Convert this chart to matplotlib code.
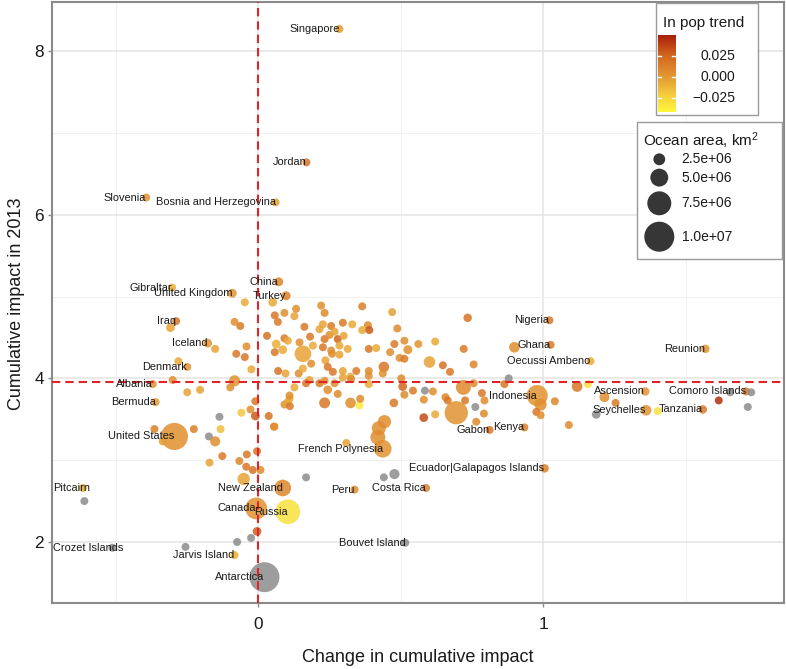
import numpy as np
import matplotlib
matplotlib.use("Agg")
import matplotlib.pyplot as plt
import matplotlib.transforms as mtransforms
from matplotlib.colors import LinearSegmentedColormap, Normalize
from matplotlib.patches import Rectangle

plt.rcParams['font.family'] = ['Liberation Sans', 'DejaVu Sans']
plt.rcParams['mathtext.fontset'] = 'custom'
plt.rcParams['mathtext.rm'] = 'Liberation Sans'
plt.rcParams['mathtext.it'] = 'Liberation Sans'

nan = float('nan')

# ---------------- data ----------------
names = [
    "Singapore", "Jordan", "Slovenia", "Bosnia and Herzegovina", "Gibraltar",
    "United Kingdom", "China", "Turkey", "Iraq", "Iceland", "Denmark", "Albania",
    "Bermuda", "United States", "Pitcairn", "Crozet Islands", "Jarvis Island",
    "Antarctica", "Canada", "Russia", "New Zealand", "Peru", "Costa Rica",
    "Bouvet Island", "French Polynesia", "Ecuador|Galapagos Islands", "Gabon",
    "Kenya", "Indonesia", "Nigeria", "Ghana", "Oecussi Ambeno", "Reunion",
    "Ascension", "Seychelles", "Tanzania", "Comoro Islands",
] + [""] * 160

change = [
    0.284, 0.168, -0.394, 0.060, -0.303, -0.092, 0.071, 0.097, -0.289, -0.178,
    -0.250, -0.371, -0.361, -0.295, -0.616, -0.513, -0.084, 0.021, -0.008, 0.103,
    0.085, 0.337, 0.588, 0.515, 0.436, 1.004, 0.811, 0.933, 0.978, 1.021,
    1.025, 1.165, 1.568, 1.357, 1.360, 1.559, 1.711,
    # unlabelled
    -0.309, -0.152, -0.281, -0.301, -0.365, -0.227, -0.174, -0.152, -0.137, -0.133,
    -0.250, -0.205, -0.099, -0.084, -0.025, 0.069, 0.095, -0.048, -0.078, -0.042,
    -0.084, -0.064, -0.048, 0.050, 0.057, 0.091, 0.068, 0.126, 0.030, 0.062,
    0.091, 0.103, 0.085, 0.057, -0.011, -0.028, -0.011, 0.036, -0.060, 0.054,
    0.091, 0.103, 0.110, 0.132,
    0.220, 0.232, 0.364, 0.469, 0.161, 0.226, 0.255, 0.296, 0.329, 0.384,
    0.364, 0.389, 0.487, 0.181, 0.214, 0.232, 0.249, 0.267, 0.278, 0.299,
    0.144, 0.191, 0.226, 0.255, 0.284, 0.313, 0.156, 0.387, 0.413, 0.462,
    0.477, 0.512, 0.524, 0.561, 0.495, 0.512, 0.440, 0.235, 0.185, 0.243,
    0.261, 0.296, 0.343, 0.387, 0.322, 0.141, 0.156, 0.501, 0.258, 0.284,
    0.734, 0.720, 0.600, 0.620, 0.647, 0.672, 0.755, 0.506, 0.512, 0.542,
    0.584, 0.612, 0.580, 0.475, 0.580, 0.620, 0.656, 0.664, 0.719, 0.694,
    0.725, 0.761, 0.755, 0.784, 0.793, 0.791, 0.764, 0.878, 0.863, 0.990,
    0.975, 0.990, 1.040, 0.898, 1.118, 1.156, 1.214, 1.253, 1.185, 1.401,
    1.655, 1.729, 1.615, 1.717, 1.089, 0.126, 0.109, 0.179, 0.167, 0.214,
    0.232, 0.243, 0.267, 0.296, 0.325, 0.387, 0.387, 0.436, 0.109, 0.232,
    0.323, 0.354, 0.357, 0.278, 0.442, 0.422, 0.419, 0.308, 0.056, 0.167,
    0.440, 0.477, -0.611, -0.256, -0.005, -0.026, -0.075, -0.052, -0.067, -0.043,
    -0.020, 0.007, -0.172, -0.127, -0.041, -0.005, -0.336,
]

impact = [
    8.27, 6.64, 6.21, 6.15, 5.11, 5.04, 5.18, 5.01, 4.70, 4.43,
    4.14, 3.93, 3.71, 3.29, 2.66, 1.93, 1.84, 1.57, 2.41, 2.37,
    2.66, 2.64, 2.66, 1.99, 3.14, 2.90, 3.37, 3.40, 3.79, 4.71,
    4.41, 4.21, 4.36, 3.84, 3.61, 3.62, 3.84,
    # unlabelled
    4.62, 4.36, 4.21, 3.98, 3.38, 3.38, 3.29, 3.23, 3.53, 3.38,
    3.83, 3.86, 3.89, 3.97, 4.11, 4.09, 4.06, 4.26, 4.30, 4.39,
    4.69, 4.64, 4.93, 4.93, 4.77, 4.80, 4.69, 4.76, 4.52, 4.42,
    4.49, 4.46, 4.35, 4.32, 3.72, 3.62, 3.54, 3.54, 3.58, 3.41,
    3.68, 3.71, 3.66, 4.85,
    4.89, 4.80, 4.88, 4.81, 4.63, 4.66, 4.64, 4.68, 4.66, 4.65,
    4.59, 4.59, 4.61, 4.51, 4.60, 4.48, 4.53, 4.57, 4.48, 4.52,
    4.44, 4.40, 4.38, 4.34, 4.40, 4.36, 4.30, 4.36, 4.37, 4.32,
    4.42, 4.46, 4.35, 4.42, 4.25, 4.24, 4.14, 4.22, 4.18, 4.14,
    4.08, 4.09, 4.09, 4.09, 4.02, 4.06, 4.12, 4.00, 4.30, 4.29,
    4.74, 4.36, 4.20, 4.45, 4.16, 4.08, 4.17, 3.90, 3.80, 3.85,
    3.85, 3.84, 3.74, 3.70, 3.52, 3.56, 3.77, 3.73, 3.89, 3.58,
    3.73, 3.65, 3.94, 3.82, 3.73, 3.57, 3.47, 4.00, 3.93, 3.68,
    3.59, 3.55, 3.72, 4.38, 3.90, 3.93, 3.77, 3.70, 3.56, 3.60,
    3.83, 3.83, 3.73, 3.65, 3.43, 3.89, 3.75, 3.98, 3.94, 3.94,
    3.97, 3.86, 3.94, 4.01, 3.99, 3.93, 4.03, 4.06, 3.79, 3.70,
    3.70, 3.67, 3.75, 3.81, 3.47, 3.39, 3.28, 3.21, 3.41, 2.79,
    2.79, 2.83, 2.50, 1.94, 2.13, 2.05, 2.00, 2.77, 2.99, 2.92,
    2.88, 2.88, 2.97, 3.05, 3.07, 3.11, 3.23,
]

# ocean area, million km2
ocean_area_mkm2 = [
    0.9, 0.9, 0.9, 0.9, 0.9, 1.3, 1.3, 1.3, 0.9, 1.2,
    0.9, 0.9, 0.9, 8.8, 0.9, 0.9, 0.9, 10.0, 6.6, 7.8,
    4.5, 0.9, 0.9, 0.9, 4.9, 1.1, 0.9, 0.9, 6.3, 0.9,
    0.9, 0.9, 1.1, 1.1, 2.0, 1.1, 0.9,
    # unlabelled
    1.2, 0.9, 0.9, 0.9, 0.9, 0.9, 0.9, 1.8, 0.9, 0.9,
    0.9, 0.9, 0.9, 2.2, 0.9, 0.9, 0.9, 0.9, 0.9, 0.9,
    0.9, 0.9, 0.9, 1.2, 0.9, 0.9, 0.9, 0.9, 0.9, 1.2,
    0.9, 0.9, 1.2, 0.9, 0.9, 0.9, 1.2, 0.9, 0.9, 0.9,
    0.9, 0.9, 0.9, 0.9,
    0.9, 0.9, 0.9, 0.9, 0.9, 0.9, 0.9, 0.9, 0.9, 0.9,
    0.9, 0.9, 0.9, 0.9, 0.9, 0.9, 0.9, 0.9, 0.9, 0.9,
    0.9, 0.9, 0.9, 0.9, 0.9, 0.9, 4.5, 0.9, 0.9, 0.9,
    0.9, 0.9, 1.3, 0.9, 0.9, 0.9, 2.0, 0.9, 0.9, 0.9,
    0.9, 0.9, 0.9, 0.9, 0.9, 0.9, 0.9, 0.9, 0.9, 0.9,
    1.1, 0.9, 2.4, 0.9, 0.9, 0.9, 0.9, 1.2, 0.9, 0.9,
    0.9, 0.9, 0.9, 1.2, 1.2, 0.9, 0.9, 0.9, 3.8, 7.2,
    0.9, 0.9, 0.9, 0.9, 0.9, 0.9, 0.9, 0.9, 0.9, 2.6,
    0.9, 0.9, 0.9, 2.0, 2.0, 0.9, 1.7, 0.9, 1.2, 0.9,
    0.9, 0.9, 0.9, 0.9, 0.9, 0.9, 0.9, 0.9, 0.9, 0.9,
    0.9, 1.2, 0.9, 0.9, 0.9, 0.9, 0.9, 0.9, 0.9, 2.1,
    2.0, 0.9, 0.9, 0.9, 3.1, 3.4, 3.8, 0.9, 0.9, 0.9,
    0.9, 1.8, 0.9, 0.9, 1.2, 0.9, 0.9, 2.7, 0.9, 0.9,
    0.9, 0.9, 0.9, 0.9, 0.9, 0.9, 0.9,
]

# ln population trend (nan = not available)
pop_trend = [
    0.000, 0.020, 0.003, -0.002, -0.008, 0.004, 0.010, 0.012, 0.018, 0.003,
    0.004, 0.004, 0.000, 0.005, -0.008, nan, -0.010, nan, 0.004, -0.030,
    0.010, 0.006, 0.012, nan, 0.004, 0.012, 0.018, 0.014, 0.004, 0.018,
    0.016, -0.006, 0.004, 0.004, 0.004, 0.016, 0.018,
    # unlabelled
    -0.004, -0.004, -0.006, 0.006, 0.014, 0.014, nan, 0.006, nan, -0.014,
    -0.004, -0.004, 0.006, 0.004, -0.006, 0.020, -0.004, 0.018, 0.018, 0.006,
    0.006, 0.016, -0.006, -0.006, 0.018, 0.006, 0.016, -0.004, 0.020, -0.008,
    0.016, -0.006, -0.006, 0.018, 0.018, 0.006, 0.030, 0.020, -0.018, 0.006,
    0.006, -0.004, 0.016, 0.006,
    0.006, 0.008, 0.014, -0.002, 0.016, -0.004, 0.016, 0.016, -0.006, 0.008,
    -0.006, 0.030, 0.008, 0.016, -0.004, 0.018, 0.006, -0.004, 0.026, -0.004,
    0.006, -0.006, 0.018, 0.006, -0.006, -0.006, -0.004, 0.018, -0.006, 0.006,
    0.016, 0.006, 0.006, 0.004, 0.006, 0.016, 0.018, -0.004, 0.006, 0.018,
    0.018, -0.004, 0.016, 0.008, -0.006, 0.006, -0.006, 0.008, 0.006, -0.004,
    0.020, 0.016, -0.004, -0.006, 0.020, 0.018, 0.010, 0.026, 0.008, 0.016,
    nan, 0.006, 0.006, 0.016, 0.035, -0.006, 0.010, 0.018, 0.008, 0.004,
    0.018, nan, 0.008, 0.018, 0.008, 0.008, 0.008, nan, 0.018, 0.006,
    0.018, 0.006, 0.010, 0.006, 0.018, -0.030, 0.006, 0.016, nan, -0.030,
    nan, nan, 0.045, nan, 0.008, -0.006, -0.006, -0.004, 0.018, 0.016,
    0.006, 0.006, 0.006, -0.004, 0.008, -0.006, 0.006, 0.006, 0.006, 0.018,
    0.006, -0.035, 0.008, 0.008, 0.006, 0.006, 0.006, -0.004, 0.006, nan,
    nan, nan, nan, nan, 0.028, nan, nan, -0.004, 0.010, 0.018,
    0.020, 0.008, -0.004, 0.016, 0.018, 0.020, -0.002,
]

change_cutoff = 0.0
impact_cutoff = 3.95

trend_limits = (-0.041, 0.050)
trend_breaks = [0.025, 0.0, -0.025]
trend_labels = ["0.025", "0.000", "\u22120.025"]
size_breaks_mkm2 = [2.5, 5.0, 7.5, 10.0]
size_labels = ["2.5e+06", "5.0e+06", "7.5e+06", "1.0e+07"]

n = min(len(change), len(impact), len(ocean_area_mkm2), len(pop_trend))
change = np.array(change[:n]); impact = np.array(impact[:n])
area = np.array(ocean_area_mkm2[:n]); trend = np.array(pop_trend[:n])
names = names[:n]

# ---------------- styling ----------------
W, H = 786, 669
DPI = 100
cmap = LinearSegmentedColormap.from_list(
    "pop", [(0.0, "#FFF83A"), (0.23, "#F4CB40"), (0.45, "#E49A33"),
            (0.725, "#D3691F"), (1.0, "#A8200A")])
norm = Normalize(*trend_limits)


def diam_px(a):
    return 5.8 + 2.42 * np.asarray(a)


def s_of(a):
    return (diam_px(a) * 72.0 / DPI) ** 2


colors = [cmap(norm(t)) if np.isfinite(t) else (0.55, 0.55, 0.55, 1.0) for t in trend]

fig = plt.figure(figsize=(W / DPI, H / DPI), dpi=DPI)
L, R, T, B = 51.7, 784.0, 2.0, 602.7
ax = fig.add_axes([L / W, 1 - B / H, (R - L) / W, (B - T) / H])
ax.set_xlim(-0.7256, 1.844)
ax.set_ylim(1.258, 8.60)

ax.set_xticks([0, 1])
ax.set_xticklabels(["0", "1"])
ax.set_xticks([-0.5, 0.5, 1.5], minor=True)
ax.set_yticks([2, 4, 6, 8])
ax.set_yticklabels(["2", "4", "6", "8"])
ax.set_yticks([3, 5, 7], minor=True)
ax.grid(which="major", color="#E4E4E4", lw=1.1)
ax.grid(which="minor", color="#F1F1F1", lw=0.7)
ax.set_axisbelow(True)
for sp in ax.spines.values():
    sp.set_color("#8A8A8A")
    sp.set_linewidth(1.5)
ax.tick_params(which="major", length=3, width=1, color="#8A8A8A",
               labelsize=12.4, labelcolor="#1A1A1A")
ax.tick_params(axis="x", pad=7)
ax.tick_params(axis="y", pad=2.5)
ax.tick_params(which="minor", length=0)

ax.scatter(change, impact, s=s_of(area), c=colors, alpha=0.85,
           linewidths=0, zorder=3)

dash = (0, (4.0, 2.4))
ax.axhline(impact_cutoff, color="#E0242A", ls=dash, lw=1.5, zorder=4)
ax.axvline(change_cutoff, color="#E0242A", ls=dash, lw=1.5, zorder=4)

label_artists = []
for x, y, nm in zip(change, impact, names):
    if nm:
        t = ax.text(x, y, nm, ha="right", va="center", fontsize=7.9,
                    color="#1A1A1A", zorder=5)
        label_artists.append(t)

# keep labels inside the panel (shift right if they cross the left edge)
fig.canvas.draw()
renderer = fig.canvas.get_renderer()
ax_left_px = ax.get_window_extent(renderer).x0
for t in label_artists:
    bb = t.get_window_extent(renderer)
    if bb.x0 < ax_left_px + 1.5:
        dx = (ax_left_px + 1.5 - bb.x0) * 72.0 / DPI
        t.set_transform(mtransforms.offset_copy(ax.transData, fig=fig,
                                                x=dx, y=0, units="points"))

fig.text((L + R) / 2 / W, 1 - 658 / H, "Change in cumulative impact",
         ha="center", va="center", fontsize=13, color="#1A1A1A")
fig.text(17 / W, 1 - 304 / H, "Cumulative impact in 2013", rotation=90,
         ha="center", va="center", fontsize=13, color="#1A1A1A")

# ---------------- legends (overlay in pixel coordinates) ----------------
lax = fig.add_axes([0, 0, 1, 1], zorder=10)
lax.set_xlim(0, W)
lax.set_ylim(H, 0)
lax.axis("off")

# colour legend
lax.add_patch(Rectangle((655.7, 3.3), 102.6, 111.7, facecolor="white",
                        edgecolor="#9A9A9A", lw=1.0, zorder=1))
lax.text(662.7, 23.5, "In pop trend", ha="left", va="center", fontsize=11,
         color="#1A1A1A", zorder=3)
bx0, bx1, by0, by1 = 657.8, 675.0, 35.0, 111.7
grad = np.linspace(trend_limits[1], trend_limits[0], 256).reshape(-1, 1)
lax.imshow(grad, cmap=cmap, norm=norm, aspect="auto",
           extent=(bx0, bx1, by1, by0), interpolation="bilinear", zorder=2)
for v, lab in zip(trend_breaks, trend_labels):
    yy = by0 + (trend_limits[1] - v) / (trend_limits[1] - trend_limits[0]) * (by1 - by0)
    lax.plot([bx0, bx0 + 3.5], [yy, yy], color="white", lw=1, zorder=3)
    lax.plot([bx1 - 3.5, bx1], [yy, yy], color="white", lw=1, zorder=3)
    lax.text(735, yy, lab, ha="right", va="center", fontsize=10,
             color="#1A1A1A", zorder=3)
lax.set_xlim(0, W)
lax.set_ylim(H, 0)

# size legend
lax.add_patch(Rectangle((637.3, 121.7), 144.5, 137.6, facecolor="white",
                        edgecolor="#9A9A9A", lw=1.0, zorder=1))
lax.text(642.7, 141, "Ocean area, km$^{2}$", ha="left", va="center",
         fontsize=11, color="#1A1A1A", zorder=3)
key_y = [159.3, 177.6, 203.3, 236.7]
lax.scatter([659.3] * 4, key_y, s=s_of(size_breaks_mkm2), color="#2B2B2B",
            alpha=0.95, linewidths=0, zorder=3)
for yy, lab in zip(key_y, size_labels):
    lax.text(681.7, yy, lab, ha="left", va="center", fontsize=10,
             color="#1A1A1A", zorder=3)
lax.set_xlim(0, W)
lax.set_ylim(H, 0)

fig.savefig("out.png", dpi=DPI)
